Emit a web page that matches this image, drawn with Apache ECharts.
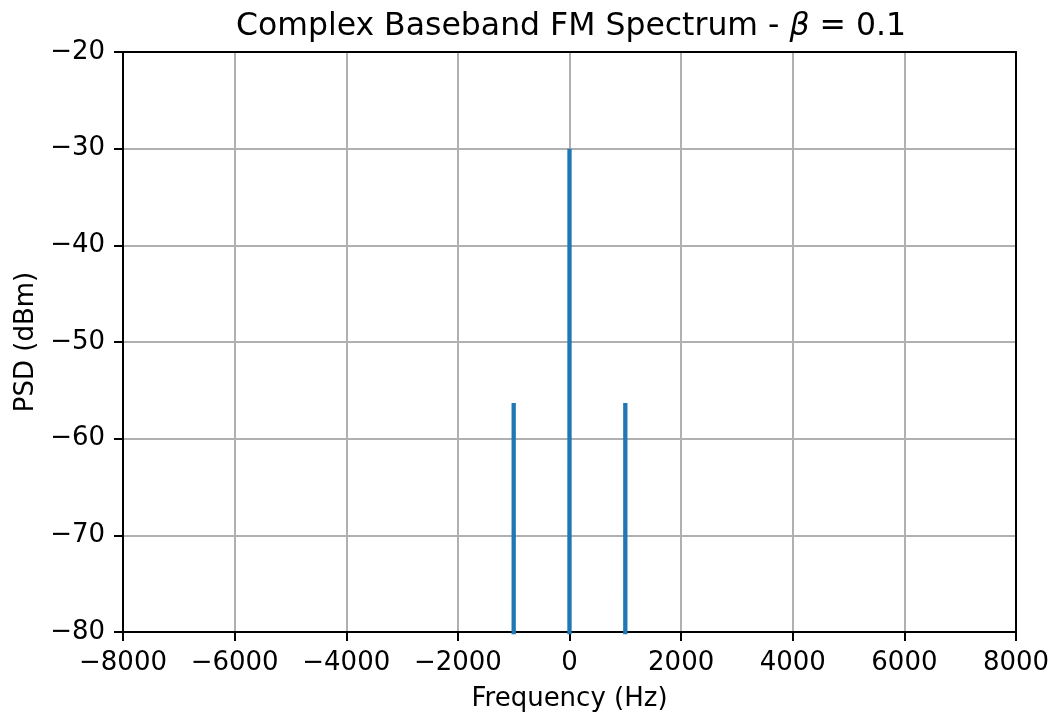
<!DOCTYPE html>
<html>
<head>
<meta charset="utf-8">
<script src="https://cdn.jsdelivr.net/npm/echarts@6/dist/echarts.min.js"></script>
<style>html,body{margin:0;padding:0;background:#fff;}#c{width:1053px;height:712px;}</style>
</head>
<body>
<div id="c"></div>
<script>
const freqs = [-8000, -1002, -1000, -998, -2, 0, 2, 998, 1000, 1002, 8000];
const psd   = [-300, -300, -56.3, -300, -300, -30, -300, -300, -56.3, -300, -300];
const xTicks = [-8000, -6000, -4000, -2000, 0, 2000, 4000, 6000, 8000];
const yTicks = [-80, -70, -60, -50, -40, -30, -20];

const font = 'DejaVu Sans';
const fs = 26;
const fmt = v => String(v).replace('-', '\u2212');
const frameAxis = {
  show: true, z: 5,
  axisLine: {show: true, onZero: false, lineStyle: {color: '#000', width: 2}},
  axisTick: {show: false}, axisLabel: {show: false}, splitLine: {show: false}
};
const chart = echarts.init(document.getElementById('c'), null, {renderer: 'canvas'});
chart.setOption({
  backgroundColor: '#fff',
  animation: false,
  title: {
    text: '{n|Complex Baseband FM Spectrum - }{b|β}{n| = 0.1}',
    left: 566, top: 6, textAlign: 'center',
    textStyle: {
      rich: {
        n: {fontFamily: font, fontSize: 31.5, fontWeight: 'normal', color: '#000'},
        b: {fontFamily: font, fontSize: 31.5, fontWeight: 'normal', fontStyle: 'italic', color: '#000'}
      }
    }
  },
  grid: {left: 123, right: 37, top: 52, bottom: 80, show: false, containLabel: false, outerBoundsMode: 'none'},
  xAxis: [{
    type: 'value', min: xTicks[0], max: xTicks[xTicks.length-1], interval: 2000,
    name: 'Frequency (Hz)', nameLocation: 'middle', nameGap: 54,
    nameTextStyle: {fontFamily: font, fontSize: fs, color: '#000'},
    axisLine: {show: true, onZero: false, lineStyle: {color: '#000', width: 2}},
    axisTick: {show: true, length: 9, lineStyle: {color: '#000', width: 2}},
    axisLabel: {fontFamily: font, fontSize: fs, color: '#000', margin: 18, formatter: fmt},
    splitLine: {show: true, lineStyle: {color: '#b0b0b0', width: 2}}
  }, Object.assign({type: 'value', position: 'top', min: xTicks[0], max: xTicks[xTicks.length-1]}, frameAxis)],
  yAxis: [{
    type: 'value', min: yTicks[0], max: yTicks[yTicks.length-1], interval: 10,
    name: 'PSD (dBm)', nameLocation: 'middle', nameGap: 83,
    nameTextStyle: {fontFamily: font, fontSize: fs, color: '#000'},
    axisLine: {show: true, onZero: false, lineStyle: {color: '#000', width: 2}},
    axisTick: {show: true, length: 9, lineStyle: {color: '#000', width: 2}},
    axisLabel: {fontFamily: font, fontSize: fs, color: '#000', margin: 18, padding: [4, 0, 0, 0], formatter: fmt},
    splitLine: {show: true, lineStyle: {color: '#b0b0b0', width: 2}}
  }, Object.assign({type: 'value', position: 'right', min: yTicks[0], max: yTicks[yTicks.length-1]}, frameAxis)],
  series: [{
    type: 'line',
    xAxisIndex: 0, yAxisIndex: 0,
    data: freqs.map((f, i) => [f, psd[i]]),
    showSymbol: false, symbol: 'none', clip: true,
    lineStyle: {color: '#1f77b4', width: 4.3, cap: 'butt', join: 'miter'}
  }]
});
</script>
</body>
</html>
